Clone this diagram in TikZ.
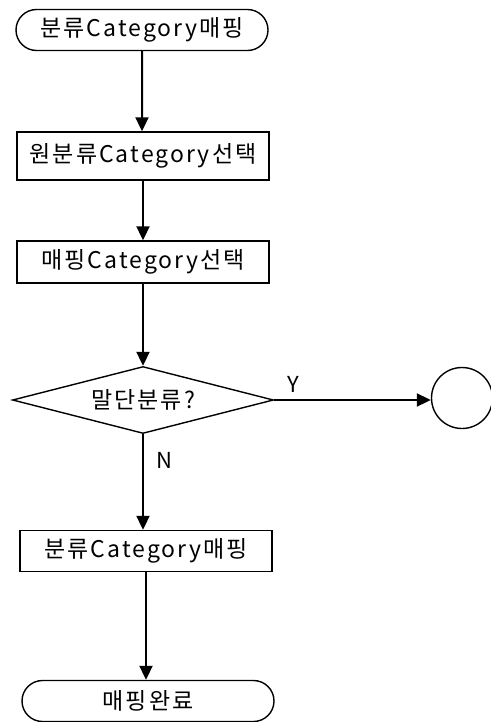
\documentclass[tikz,border=0pt]{standalone}
\usepackage{fontspec}
\setmainfont[LetterSpace=9]{Noto Sans CJK KR}
\usetikzlibrary{shapes.geometric,shapes.misc,arrows.meta}
\tikzset{
  flow/.style={draw,line width=0.7pt,inner sep=0pt,font=\fontsize{11.5}{13}\selectfont},
  terminal/.style={flow,rounded rectangle,minimum width=126pt,minimum height=20.5pt},
  process/.style={flow,rectangle,minimum width=126pt},
  decision/.style={flow,diamond,aspect=3.9,minimum width=130.5pt,minimum height=33.5pt},
  link/.style={draw,line width=1pt,-{Triangle[length=7pt,width=6.5pt]}}
}
\begin{document}
\begin{tikzpicture}[x=0.5pt,y=-0.5pt]
  \useasboundingbox (0,0) rectangle (491,722);
  \node[terminal] (start) at (142,30) {분류Category매핑};
  \node[process,minimum height=24pt] (orig) at (143,156) {원분류Category선택};
  \node[process,minimum height=21pt] (target) at (143,262) {매핑Category선택};
  \node[decision] (leaf) at (143,400) {말단분류?};
  \node[draw,line width=0.7pt,circle,minimum size=30.5pt,inner sep=0pt] (conn) at (462,398) {};
  \node[process,minimum height=20.5pt] (map) at (146,551) {분류Category매핑};
  \node[terminal] (done) at (148,701) {매핑완료};
  \draw[link] (start) -- (start |- orig.north);
  \draw[link] (orig) -- (orig |- target.north);
  \draw[link] (target) -- (leaf);
  \draw[link] (leaf.east) -- (leaf.east -| conn.west) node[pos=0.12,above,font=\fontsize{11}{13}\selectfont] {Y};
  \draw[link] (leaf.south) -- (leaf.south |- map.north) node[pos=0.27,right=3pt,font=\fontsize{11}{13}\selectfont] {N};
  \draw[link] (map) -- (map |- done.north);
\end{tikzpicture}
\end{document}
